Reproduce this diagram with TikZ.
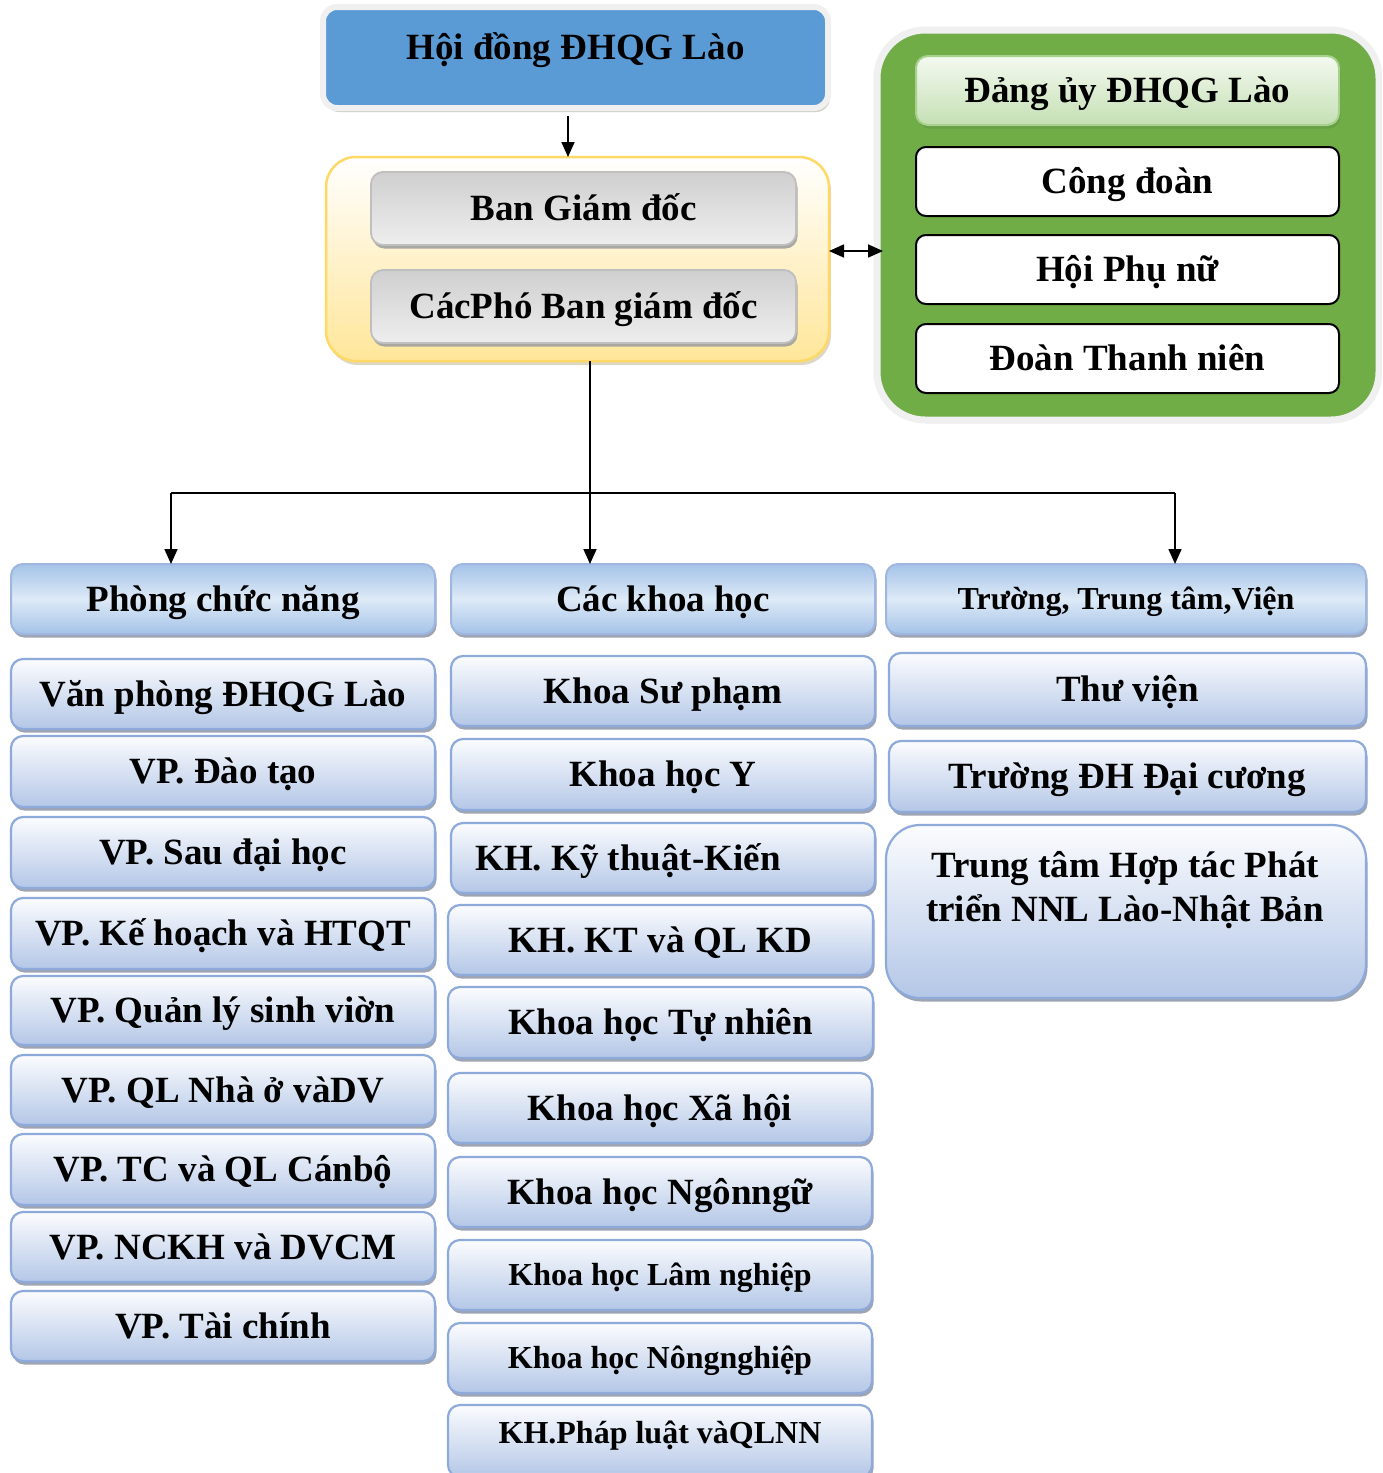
\documentclass[tikz,border=0pt]{standalone}
\usepackage{fontspec}
\setmainfont{Liberation Serif}
\usetikzlibrary{arrows.meta,shadows,calc}
\definecolor{topblue}{HTML}{5B9BD5}
\definecolor{glow}{HTML}{F0F0F0}
\definecolor{oliveshd}{HTML}{A3A690}
\definecolor{yelB}{HTML}{FFD966}
\definecolor{yelF}{HTML}{FFE699}
\definecolor{yelshd}{HTML}{BFB08A}
\definecolor{grayB}{HTML}{BFBFBF}
\definecolor{grayT}{HTML}{CFCFCF}
\definecolor{grayBt}{HTML}{EEEEEE}
\definecolor{grayshd}{HTML}{A0A0A0}
\definecolor{grn}{HTML}{70AD47}
\definecolor{grnL}{HTML}{C5E0B4}
\definecolor{grnT}{HTML}{F4F9F0}
\definecolor{grnB}{HTML}{A9D18E}
\definecolor{grnshd}{HTML}{5E9040}
\definecolor{itB}{HTML}{8EAADB}
\definecolor{itBot}{HTML}{B4C7E7}
\definecolor{itTop}{HTML}{FBFCFE}
\definecolor{hdE}{HTML}{A4C3E8}
\definecolor{hdM}{HTML}{DEEAF7}
\definecolor{shd}{HTML}{8C95A6}
\newcommand\mybox[8][]{\node[#2,minimum width={#6-#4},minimum height={#7-#5},#1] (#3) at ({(#4+#6)/2},{(#5+#7)/2}) {#8};}
\tikzset{
  basebox/.style={rounded corners=12pt, inner sep=0pt, outer sep=0pt},
  fbig/.style={font=\fontsize{37}{44}\selectfont\bfseries, text height=24.2pt, text depth=0pt},
  fsmall/.style={font=\fontsize{32}{38}\selectfont\bfseries, text height=21pt, text depth=0pt},
  shad/.style={drop shadow={shadow xshift=1.5pt, shadow yshift=-3.5pt, fill=shd, opacity=0.85}},
  itembox/.style={basebox, shad, draw=itB, line width=2.2pt, top color=itTop, bottom color=itBot},
  headbox/.style={basebox, shad, draw=itB!85, line width=2pt, top color=hdE, bottom color=hdE, middle color=hdM},
  graybox/.style={basebox, draw=grayB, line width=1.8pt, top color=grayT, bottom color=grayBt,
     drop shadow={shadow xshift=1.5pt, shadow yshift=-3.5pt, fill=grayshd, opacity=0.9}},
  whitebox/.style={basebox, rounded corners=10pt, draw=black, line width=2pt, fill=white},
  conn/.style={line width=1.7pt, draw=black},
  arrowc/.style={conn, -{Triangle[length=15pt,width=13pt]}},
  dblarrow/.style={conn, {Triangle[length=15pt,width=13pt]}-{Triangle[length=15pt,width=13pt]}},
}
\begin{document}
\begin{tikzpicture}[x=1pt,y=-1pt]
\useasboundingbox (0,0) rectangle (1382,1473);
\clip (0,0) rectangle (1382,1473);
\fill[white] (0,0) rectangle (1382,1473);

% top council box
\mybox[rounded corners=14pt, draw=glow, line width=6pt, fill=topblue,
  drop shadow={shadow xshift=2pt, shadow yshift=-4pt, fill=oliveshd}, text depth=20.2pt]{basebox,fbig}{hd}{323}{7}{828}{108}{Hội đồng ĐHQG Lào}

% directors group
\mybox[rounded corners=30pt, draw=yelB, line width=2.5pt, top color=white, bottom color=yelF,
  drop shadow={shadow xshift=2pt, shadow yshift=-4pt, fill=yelshd}]{basebox}{yel}{326}{157}{829}{361}{}
\mybox{graybox,fbig}{bgd}{371}{172}{796}{245}{Ban Giám đốc}
\mybox{graybox,fbig}{pgd}{371}{270}{796}{343}{CácPhó Ban giám đốc}

% party / unions group
\mybox[rounded corners=48pt, draw=glow, line width=7pt, fill=grn,
  drop shadow={shadow xshift=1pt, shadow yshift=-3pt, fill=gray!55}]{basebox}{grp}{877}{30}{1379}{420}{}
\mybox[draw=grnB, line width=2pt, top color=grnT, bottom color=grnL,
  drop shadow={shadow xshift=1.5pt, shadow yshift=-3.5pt, fill=grnshd}]{basebox,fbig}{dang}{916}{56}{1339}{125}{Đảng ủy ĐHQG Lào}
\mybox{whitebox,fbig}{cd}{916}{147}{1339}{216}{Công đoàn}
\mybox{whitebox,fbig}{pn}{916}{235}{1339}{304}{Hội Phụ nữ}
\mybox{whitebox,fbig}{tn}{916}{324}{1339}{393}{Đoàn Thanh niên}

% column 1
\mybox{headbox,fbig}{h1}{11}{564}{435}{634}{Phòng chức năng}
\mybox{itembox,fbig}{a1}{11}{659}{435}{729}{Văn phòng ĐHQG Lào}
\mybox{itembox,fbig}{a2}{11}{736}{435}{807}{VP. Đào tạo}
\mybox{itembox,fbig}{a3}{11}{817}{435}{888}{VP. Sau đại học}
\mybox{itembox,fbig}{a4}{11}{898}{435}{969}{VP. Kế hoạch và HTQT}
\mybox{itembox,fbig}{a5}{11}{976}{435}{1045}{VP. Quản lý sinh viờn}
\mybox{itembox,fbig}{a6}{11}{1055}{435}{1125}{VP. QL Nhà ở vàDV}
\mybox{itembox,fbig}{a7}{11}{1134}{435}{1205}{VP. TC và QL Cánbộ}
\mybox{itembox,fbig}{a8}{11}{1212}{435}{1282}{VP. NCKH và DVCM}
\mybox{itembox,fbig}{a9}{11}{1291}{435}{1361}{VP. Tài chính}

% column 2
\mybox{headbox,fbig}{h2}{451}{564}{875}{634}{Các khoa học}
\mybox{itembox,fbig}{b1}{451}{656}{875}{726}{Khoa Sư phạm}
\mybox{itembox,fbig}{b2}{451}{739}{875}{810}{Khoa học Y}
\mybox{itembox,fbig}{b3}{451}{823}{875}{893}{KH. Kỹ thuật-Kiến\kern70pt}
\mybox{itembox,fbig}{b4}{448}{905}{873}{975}{KH. KT và QL KD}
\mybox{itembox,fbig}{b5}{448}{987}{873}{1058}{Khoa học Tự nhiên}
\mybox{itembox,fbig}{b6}{448}{1073}{872}{1143}{Khoa học Xã hội}
\mybox{itembox,fbig}{b7}{448}{1157}{872}{1227}{Khoa học Ngônngữ}
\mybox{itembox,fsmall}{b8}{448}{1240}{872}{1310}{Khoa học Lâm nghiệp}
\mybox{itembox,fsmall}{b9}{448}{1323}{872}{1393}{Khoa học Nôngnghiệp}
\mybox[text depth=16pt]{itembox,fsmall}{b10}{448}{1405}{872}{1477}{KH.Pháp luật vàQLNN}

% column 3
\mybox{headbox,fsmall}{h3}{886}{564}{1366}{634}{Trường, Trung tâm,Viện}
\mybox{itembox,fbig}{c1}{889}{653}{1366}{726}{Thư viện}
\mybox{itembox,fbig}{c2}{889}{741}{1366}{812}{Trường ĐH Đại cương}
\mybox[rounded corners=34pt]{itembox}{c3}{886}{825}{1366}{998}{}
\node[font=\fontsize{37}{44}\selectfont\bfseries, align=center, anchor=base, inner sep=0pt] (c3t) at (1125,921) {Trung tâm Hợp tác Phát\\triển NNL Lào-Nhật Bản};

% connectors
\draw[arrowc] ([xshift=-7.5pt,yshift=-8pt]hd.south) -- ([xshift=-9.5pt]yel.north);
\draw[dblarrow] ([yshift=8pt]yel.east) -- ([yshift=8pt,xshift=6pt]yel.east -| grp.west);
\coordinate (j) at (590,493);
\coordinate (jl) at (171,493);
\coordinate (jr) at (1175,493);
\draw[conn] (yel.south -| j) -- (j);
\draw[conn] (jl) -- (jr);
\draw[arrowc] (jl) -- (jl |- h1.north);
\draw[arrowc] (j) -- (j |- h2.north);
\draw[arrowc] (jr) -- (jr |- h3.north);
\end{tikzpicture}
\end{document}
